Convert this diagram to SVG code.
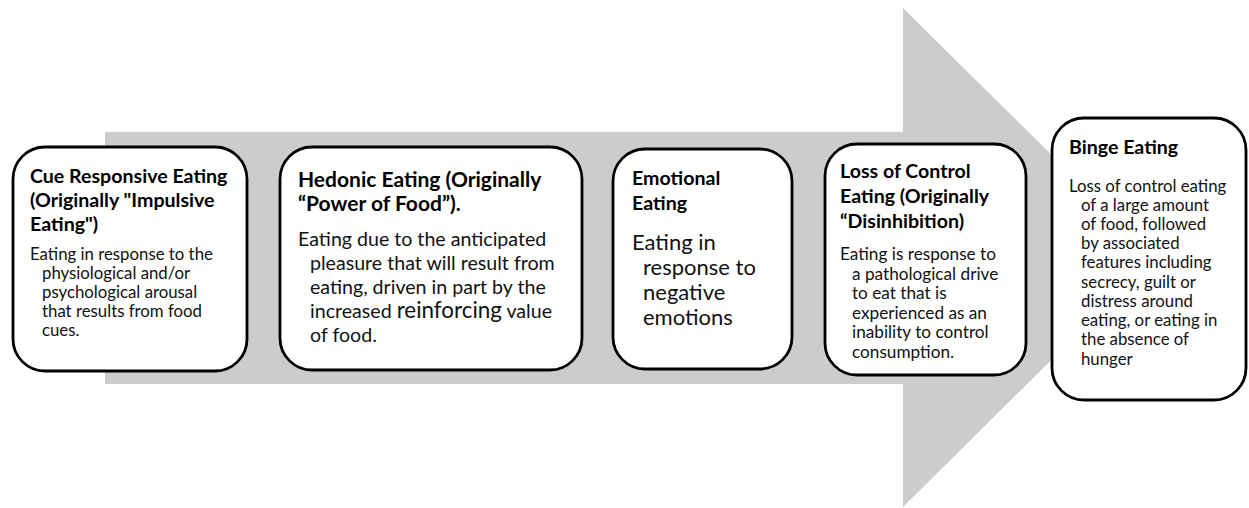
<svg xmlns="http://www.w3.org/2000/svg" width="1249" height="508" viewBox="0 0 1249 508">
  <style>
    .card { fill: #ffffff; stroke: #000000; stroke-width: 2.8; }
    .title { font-family: Lato, "Liberation Sans", sans-serif; font-weight: bold; fill: #000000; }
    .body { font-family: Lato, "Liberation Sans", sans-serif; fill: #111111; }
  </style>

  <!-- broad grey arrow running behind the stages -->
  <g id="connectors">
    <polygon points="105,132 903,132 903,8 1155,257 903,507 903,384 105,384" fill="#cccccc"/>
  </g>

  <g id="cue-responsive">
    <rect class="card" x="13" y="147" width="234" height="224" rx="32" ry="32"/>
    <text class="title" font-size="19.6">
      <tspan x="30" y="183">Cue Responsive Eating</tspan>
      <tspan x="30" y="207">(Originally "Impulsive</tspan>
      <tspan x="30" y="231">Eating")</tspan>
    </text>
    <text class="body" font-size="16.8">
      <tspan x="30" y="260">Eating in response to the</tspan>
      <tspan x="42" y="279">physiological and/or</tspan>
      <tspan x="42" y="298">psychological arousal</tspan>
      <tspan x="42" y="317">that results from food</tspan>
      <tspan x="42" y="336">cues.</tspan>
    </text>
  </g>

  <g id="hedonic">
    <rect class="card" x="280" y="147" width="302" height="223" rx="32" ry="32"/>
    <text class="title" font-size="21">
      <tspan x="298" y="187">Hedonic Eating (Originally</tspan>
      <tspan x="298" y="211">“Power of Food”).</tspan>
    </text>
    <text class="body" font-size="19.6">
      <tspan x="298" y="246">Eating due to the anticipated</tspan>
      <tspan x="310" y="270">pleasure that will result from</tspan>
      <tspan x="310" y="294">eating, driven in part by the</tspan>
      <tspan x="310" y="318">increased <tspan font-size="22.4">reinforcing</tspan> value</tspan>
      <tspan x="310" y="342">of food.</tspan>
    </text>
  </g>

  <g id="emotional">
    <rect class="card" x="613" y="149" width="179" height="220" rx="32" ry="32"/>
    <text class="title" font-size="19.6">
      <tspan x="632" y="185">Emotional</tspan>
      <tspan x="632" y="210">Eating</tspan>
    </text>
    <text class="body" font-size="22">
      <tspan x="632" y="250">Eating in</tspan>
      <tspan x="643" y="275">response to</tspan>
      <tspan x="643" y="300">negative</tspan>
      <tspan x="643" y="325">emotions</tspan>
    </text>
  </g>

  <g id="loss-of-control">
    <rect class="card" x="825" y="144" width="201" height="231" rx="32" ry="32"/>
    <text class="title" font-size="19.6">
      <tspan x="840" y="178">Loss of Control</tspan>
      <tspan x="840" y="203">Eating (Originally</tspan>
      <tspan x="840" y="228">“Disinhibition)</tspan>
    </text>
    <text class="body" font-size="17.2">
      <tspan x="840" y="260">Eating is response to</tspan>
      <tspan x="852" y="279.5">a pathological drive</tspan>
      <tspan x="852" y="299">to eat that is</tspan>
      <tspan x="852" y="318.5">experienced as an</tspan>
      <tspan x="852" y="338">inability to control</tspan>
      <tspan x="852" y="357.5">consumption.</tspan>
    </text>
  </g>

  <g id="binge">
    <rect class="card" x="1052" y="118" width="194" height="282" rx="32" ry="32"/>
    <text class="title" font-size="19.6">
      <tspan x="1069" y="154">Binge Eating</tspan>
    </text>
    <text class="body" font-size="16.8">
      <tspan x="1069" y="192">Loss of control eating</tspan>
      <tspan x="1081" y="211">of a large amount</tspan>
      <tspan x="1081" y="230">of food, followed</tspan>
      <tspan x="1081" y="249">by associated</tspan>
      <tspan x="1081" y="268">features including</tspan>
      <tspan x="1081" y="288">secrecy, guilt or</tspan>
      <tspan x="1081" y="307">distress around</tspan>
      <tspan x="1081" y="326">eating, or eating in</tspan>
      <tspan x="1081" y="345">the absence of</tspan>
      <tspan x="1081" y="365">hunger</tspan>
    </text>
  </g>
</svg>
